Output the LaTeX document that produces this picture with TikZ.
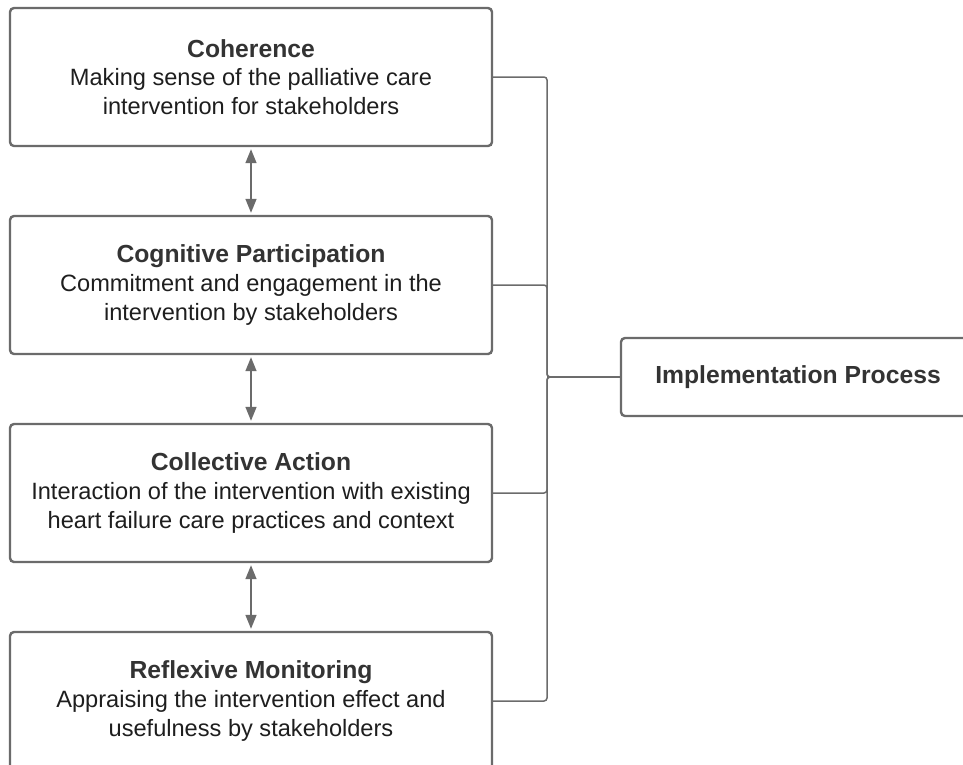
\documentclass[tikz,border=0pt]{standalone}
\usepackage{fontspec}
\setmainfont{Liberation Sans}
\usetikzlibrary{arrows.meta}
\definecolor{edgegrey}{HTML}{6B6B6B}
\definecolor{titlegrey}{HTML}{333333}
\definecolor{bodyink}{HTML}{1E1E1E}
\tikzset{
  stagebox/.style={draw=edgegrey, line width=2.4pt, rounded corners=4pt, fill=white,
    minimum width=482pt, minimum height=138pt, align=center, inner sep=0pt,
    text=bodyink, font=\fontsize{23.6}{28.8}\selectfont},
  procbox/.style={stagebox, minimum width=354pt, minimum height=78pt},
  link/.style={draw=edgegrey, line width=1.5pt, rounded corners=3pt},
  both/.style={draw=edgegrey, line width=1.5pt,
    {Triangle[width=11pt,length=14pt]}-{Triangle[width=11pt,length=14pt]},
    shorten <=2pt, shorten >=2pt}
}
\newcommand{\hd}[1]{{\fontsize{24.7}{28.8}\selectfont\bfseries\color{titlegrey}#1}}
\begin{document}
\begin{tikzpicture}[x=1pt, y=-1pt]
  \useasboundingbox (0,0) rectangle (963,764);
  \clip (0,0) rectangle (963,764);

  % four NPT stages
  \node[stagebox] (coh) at (251,77) {\hd{Coherence}\\Making sense of the palliative care\\intervention for stakeholders};
  \node[stagebox] (cog) at (251,285) {\hd{Cognitive Participation}\\Commitment and engagement in the\\intervention by stakeholders};
  \node[stagebox] (col) at (251,493) {\hd{Collective Action}\\Interaction of the intervention with existing\\heart failure care practices and context};
  \node[stagebox] (ref) at (251,701) {\hd{Reflexive Monitoring}\\Appraising the intervention effect and\\usefulness by stakeholders};

  % outcome
  \node[procbox] (imp) at (798,377) {\hd{Implementation Process}};

  % stage-to-stage links
  \draw[both] (coh.south) -- (cog.north);
  \draw[both] (cog.south) -- (col.north);
  \draw[both] (col.south) -- (ref.north);

  % bracket joining each stage to the outcome
  \coordinate (bus) at (547,377);
  \foreach \s in {coh,cog,col,ref}
    \draw[link] (\s.east) -| (bus) -- (imp.west);
\end{tikzpicture}
\end{document}
